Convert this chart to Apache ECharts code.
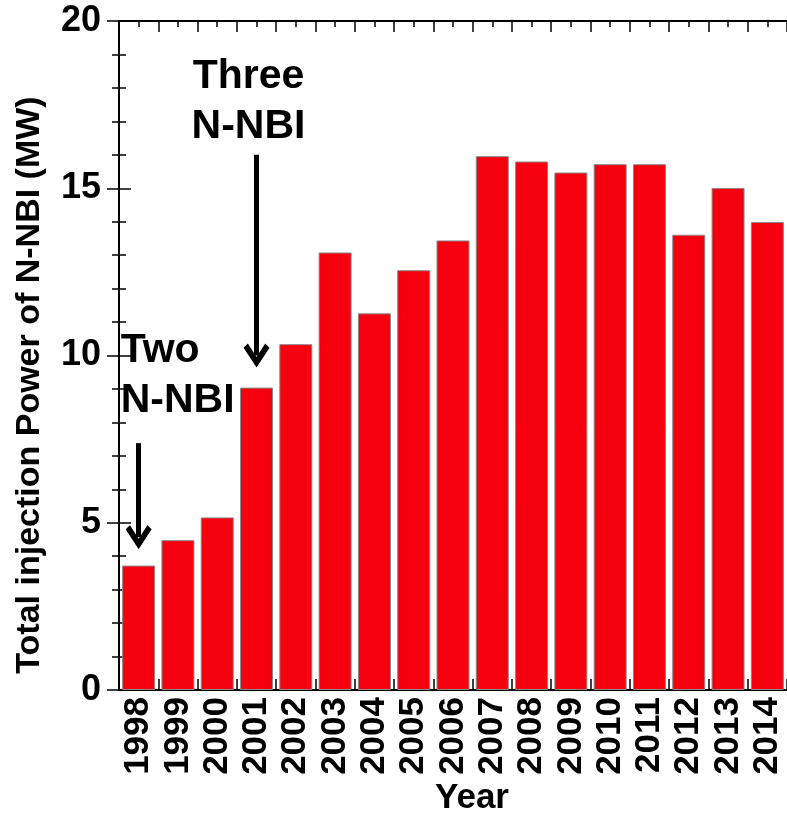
<!DOCTYPE html>
<html>
<head>
<meta charset="utf-8">
<script src="https://cdn.jsdelivr.net/npm/echarts@6/dist/echarts.min.js"></script>
<style>
  html, body { margin: 0; padding: 0; background: #ffffff; }
  #chart { width: 787px; height: 815px; }
</style>
</head>
<body>
<div id="chart"></div>
<script>
// Yearly total N-NBI injection power
const years = ['1998', '1999', '2000', '2001', '2002', '2003', '2004', '2005', '2006',
               '2007', '2008', '2009', '2010', '2011', '2012', '2013', '2014'];
const power = [3.72, 4.48, 5.16, 9.04, 10.34, 13.08, 11.26, 12.55, 13.44,
               15.96, 15.80, 15.47, 15.72, 15.72, 13.61, 15.01, 13.99];

// Annotations: text anchor and arrow (from, to) in data units
const notes = [
  { year: '2001', text: 'Three\nN-NBI', textY: 17.6, arrowFrom: 16.0, arrowTo: 10.0 },
  { year: '1998', text: 'Two\nN-NBI',   textY: 9.39, arrowFrom: 7.38, arrowTo: 4.57 }
];

const FONT = '"Liberation Sans", Arial, Helvetica, sans-serif';
const chevron = 'path://M12,0 L24,19 L20,23 L12,10 L4,23 L0,19 Z';

const chart = echarts.init(document.getElementById('chart'));

// Frame axis along top/bottom: ticks on category boundaries, minor ticks at centres
function frameX(position) {
  return {
    type: 'value', position: position, min: 0, max: years.length, interval: 1,
    axisLine: { show: true, lineStyle: { color: '#000', width: 2 } },
    axisTick: { show: true, inside: true, length: 11, lineStyle: { color: '#000', width: 1.5 } },
    minorTick: { show: true, splitNumber: 2, length: 6, lineStyle: { color: '#000', width: 1.5 } },
    axisLabel: { show: false },
    splitLine: { show: false }
  };
}

function frameY(position, labels) {
  return {
    type: 'value', position: position, min: 0, max: 20, interval: 5,
    axisLine: { show: true, lineStyle: { color: '#000', width: 2 } },
    axisTick: { show: true, inside: true, length: 12, lineStyle: { color: '#000', width: 1.5 } },
    minorTick: { show: true, splitNumber: 5, length: 7, lineStyle: { color: '#000', width: 1.5 } },
    axisLabel: labels ? { show: true, margin: 18, fontSize: 36, fontWeight: 'bold', color: '#000', fontFamily: FONT }
                      : { show: false },
    splitLine: { show: false }
  };
}

chart.setOption({
  animation: false,
  backgroundColor: '#ffffff',
  grid: { left: 119, right: -2, top: 21, bottom: 125, containLabel: false },
  xAxis: [
    {
      type: 'category', data: years, position: 'bottom',
      axisLine: { show: false }, axisTick: { show: false },
      axisLabel: { rotate: 90, margin: 7, fontSize: 35, fontWeight: 'bold', color: '#000', fontFamily: FONT, interval: 0 }
    },
    frameX('bottom'),
    frameX('top')
  ],
  yAxis: [frameY('left', true), frameY('right', false)],
  graphic: [
    {
      type: 'text', x: 30, y: 385, rotation: Math.PI / 2,
      style: { text: 'Total injection Power of N-NBI (MW)', fontSize: 34, fontWeight: 'bold',
               fontFamily: FONT, fill: '#000', align: 'center', verticalAlign: 'middle' }
    },
    {
      type: 'text', x: 472, y: 798,
      style: { text: 'Year', fontSize: 35, fontWeight: 'bold', fontFamily: FONT, fill: '#000',
               align: 'center', verticalAlign: 'middle' }
    }
  ],
  series: [{
    type: 'bar', xAxisIndex: 0, yAxisIndex: 0,
    data: power,
    barCategoryGap: '16%',
    itemStyle: { color: '#f60010', borderColor: '#8a8a8a', borderWidth: 1 },
    markPoint: {
      silent: true, symbol: 'circle', symbolSize: 1,
      itemStyle: { color: 'rgba(0,0,0,0)' },
      label: { show: true, position: 'inside', fontSize: 41, fontWeight: 'bold', lineHeight: 50,
               color: '#000', fontFamily: FONT },
      data: [
        { coord: [notes[0].year, notes[0].textY], label: { formatter: notes[0].text, offset: [-8, 0] } },
        { coord: [notes[1].year, notes[1].textY], label: { formatter: notes[1].text, align: 'left', offset: [-18, 0] } }
      ]
    },
    markLine: {
      silent: true, symbol: ['none', chevron], symbolSize: [26, 24],
      label: { show: false },
      lineStyle: { color: '#000', width: 5, type: 'solid' },
      emphasis: { disabled: true },
      data: notes.map(n => [{ coord: [n.year, n.arrowFrom] }, { coord: [n.year, n.arrowTo] }])
    }
  }]
});
</script>
</body>
</html>
